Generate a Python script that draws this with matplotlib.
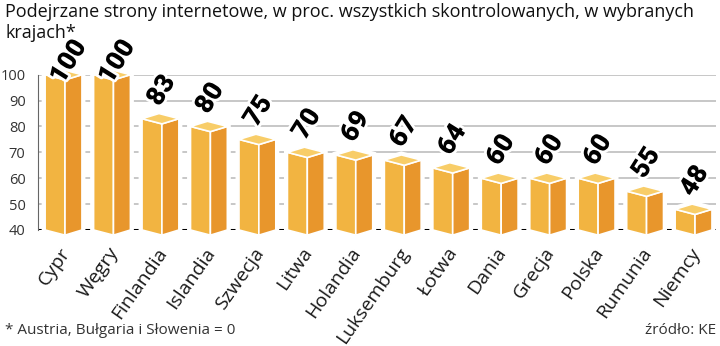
import matplotlib
matplotlib.use("Agg")
import matplotlib.pyplot as plt
from matplotlib.patches import Polygon
import matplotlib.patheffects as pe

# Suspicious websites, % of all checked, by country
countries = ["Cypr", "Węgry", "Finlandia", "Islandia", "Szwecja", "Litwa", "Holandia",
             "Luksemburg", "Łotwa", "Dania", "Grecja", "Polska", "Rumunia", "Niemcy"]
values = [100, 100, 83, 80, 75, 70, 69, 67, 64, 60, 60, 60, 55, 48]
yticks = [40, 50, 60, 70, 80, 90, 100]

title = "Podejrzane strony internetowe, w proc. wszystkich skontrolowanych, w wybranych\nkrajach*"
note = "* Austria, Bułgaria i Słowenia = 0"
source = "źródło: KE"

LEFT_C = "#F2B441"
RIGHT_C = "#E8962C"
TOP_C = "#F8CD68"
BASE = 40
plt.rcParams["font.family"] = ["Open Sans", "DejaVu Sans"]

fig = plt.figure(figsize=(7.2, 3.46), dpi=100)
ax = fig.add_axes([38 / 720, 0.3353, 678 / 720, 0.4488])
ax.set_xlim(-0.557, 13.433)
ax.set_ylim(40, 100)

for y in yticks[1:]:
    ax.axhline(y, color="#bdbdbd", lw=1.2, zorder=1)

wl, wr, dy = 0.41, 0.35, 2.0
for i, v in enumerate(values):
    left = [(i - wl, BASE), (i, BASE - dy), (i, v - dy), (i - wl, v)]
    right = [(i, BASE - dy), (i + wr, BASE), (i + wr, v), (i, v - dy)]
    top = [(i - wl, v), (i, v - dy), (i + wr, v), (i - wl + wr, v + dy)]
    outline = [(i - wl, BASE), (i, BASE - dy), (i + wr, BASE), (i + wr, v),
               (i - wl + wr, v + dy), (i - wl, v)]
    ax.add_patch(Polygon(outline, closed=True, fc="white", ec="white", lw=5,
                         zorder=3, clip_on=False))
    for pts, c in ((left, LEFT_C), (right, RIGHT_C), (top, TOP_C)):
        ax.add_patch(Polygon(pts, closed=True, fc=c, ec="white", lw=1.2,
                             zorder=4, clip_on=False, joinstyle="round"))
    # value labels; keep the 100s clear of the title
    ax.text(i - 0.05, min(v + 4.4, 96), str(v), rotation=58, rotation_mode="anchor",
            ha="left", va="baseline", fontsize=19, fontweight="black",
            family=["Roboto", "DejaVu Sans"], color="black",
            zorder=6, clip_on=False,
            path_effects=[pe.withStroke(linewidth=4, foreground="white")])
    ax.text(i + 0.03, 32.5, countries[i], rotation=55, rotation_mode="anchor",
            ha="right", va="center", fontsize=14, color="#1a1a1a", clip_on=False)

ax.axhline(BASE, color="black", lw=2.2, zorder=2)

ax.set_xticks([])
ax.set_yticks(yticks)
ax.set_yticklabels([str(t) for t in yticks], fontsize=10.5, color="#333333")
ax.tick_params(axis="y", length=0, pad=9)
for s in ("top", "right", "bottom"):
    ax.spines[s].set_visible(False)
ax.spines["left"].set_color("#666666")
ax.spines["left"].set_linewidth(0.8)

fig.text(0.007, 0.99, title, ha="left", va="top", fontsize=13, linespacing=1.15,
         color="#111111")
fig.text(0.007, 0.045, note, ha="left", va="center", fontsize=11, color="#333333")
fig.text(0.994, 0.045, source, ha="right", va="center", fontsize=11, color="#333333")

fig.savefig("out.png", dpi=100)
